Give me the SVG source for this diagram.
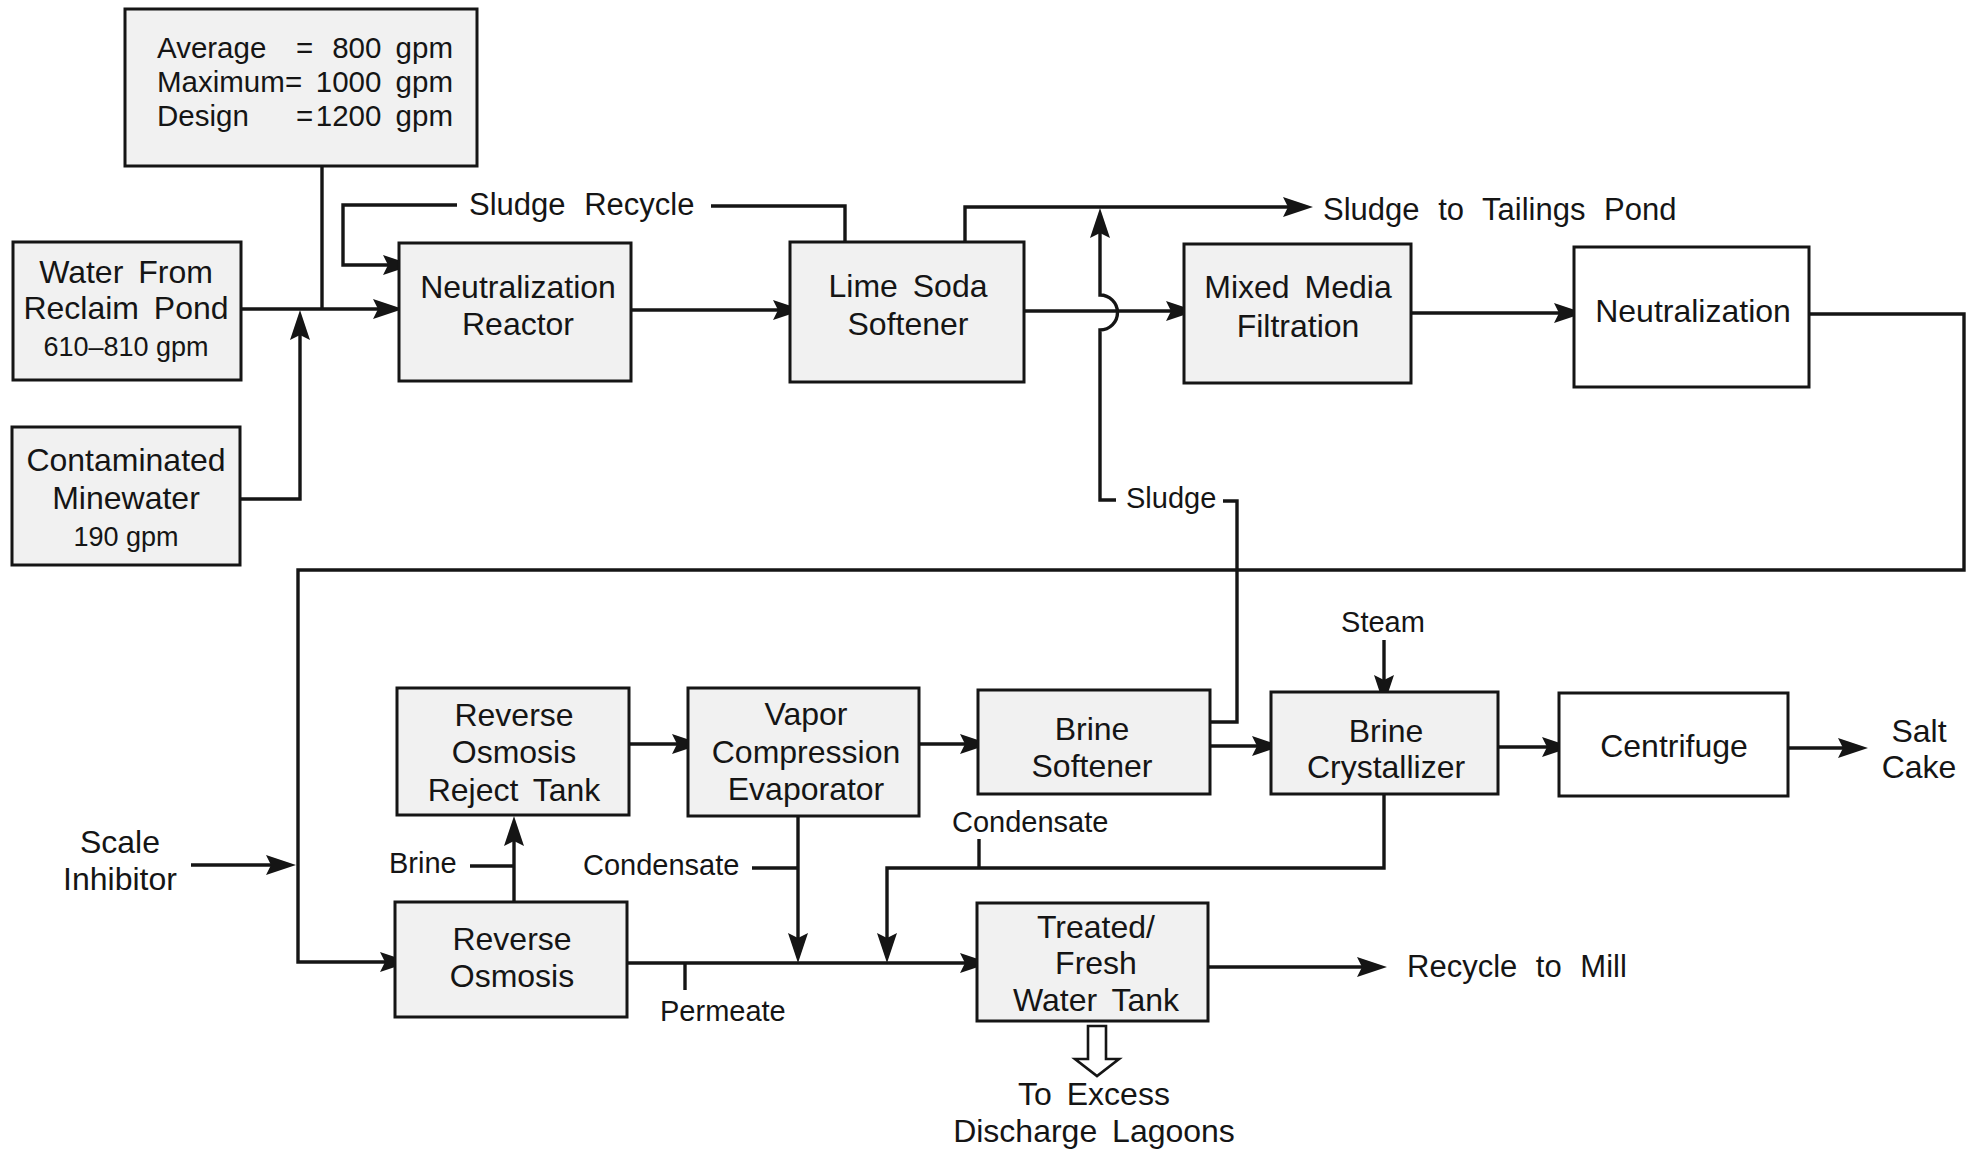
<svg xmlns="http://www.w3.org/2000/svg" width="1967" height="1150" viewBox="0 0 1967 1150">
<style>
text{font-family:"Liberation Sans",Arial,sans-serif;fill:#151515}
.box{fill:#f1f1f1;stroke:#151515;stroke-width:3}
.wbox{fill:#ffffff;stroke:#151515;stroke-width:3}
.ln{fill:none;stroke:#151515;stroke-width:3.4}
.ar{marker-end:url(#ah)}
.t{font-size:32px;text-anchor:middle;word-spacing:6px}
.q{font-size:27px;text-anchor:middle}
.f{font-size:31px;word-spacing:10px}
.s{font-size:29px}
.k{font-size:29.5px}
</style>
<defs>
<marker id="ah" markerUnits="userSpaceOnUse" viewBox="-25 -11 32 22" markerWidth="32" markerHeight="22" refX="0" refY="0" orient="auto">
<path d="M6,0 L-24,-10 L-19,0 L-24,10 Z" fill="#151515"/>
</marker>
</defs>
<rect width="1967" height="1150" fill="#ffffff"/>

<g id="connectors">
<path class="ln ar" d="M241,309 H397"/>
<path class="ln" d="M322,166 V309"/>
<path class="ln ar" d="M240,499 H300 V316"/>
<path class="ln ar" d="M457,205 H343 V265 H407"/>
<path class="ln" d="M711,206 H845 V242"/>
<path class="ln ar" d="M631,310 H797"/>
<path class="ln ar" d="M965,242 V207 H1307"/>
<path class="ln ar" d="M1024,311 H1190"/>
<path class="ln ar" d="M1116,500 H1100 V330 A17.5,17.5 0 0 0 1100,295 V214"/>
<path class="ln" d="M1223,501 H1237 V722 H1210"/>
<path class="ln ar" d="M1411,313 H1578"/>
<path class="ln ar" d="M1809,314 H1964 V570 H298 V962 H404"/>
<path class="ln ar" d="M191,865 H290"/>
<path class="ln ar" d="M514,902 V822"/>
<path class="ln" d="M470,866 H514"/>
<path class="ln ar" d="M629,744 H696"/>
<path class="ln ar" d="M919,744 H984"/>
<path class="ln ar" d="M1210,746 H1276"/>
<path class="ln ar" d="M1384,640 V699"/>
<path class="ln ar" d="M1498,747 H1566"/>
<path class="ln ar" d="M1788,748 H1862"/>
<path class="ln ar" d="M627,963 H984"/>
<path class="ln" d="M685,963 V990"/>
<path class="ln ar" d="M798,817 V957"/>
<path class="ln" d="M752,868 H798"/>
<path class="ln ar" d="M1384,794 V868 H887 V957"/>
<path class="ln" d="M979,839 V868"/>
<path class="ln ar" d="M1208,967 H1381"/>
<polygon points="1088,1026 1106,1026 1106,1059 1119,1059 1097,1076 1075,1059 1088,1059" fill="#ffffff" stroke="#151515" stroke-width="2.6" stroke-linejoin="miter"/>
</g>

<g id="flow-rates">
<rect class="box" x="125" y="9" width="352" height="157"/>
<text class="k" x="157" y="58">Average</text>
<text class="k" x="296" y="58">=</text>
<text class="k" x="453" y="58" text-anchor="end" word-spacing="6">800 gpm</text>
<text class="k" x="157" y="92">Maximum</text>
<text class="k" x="285" y="92">=</text>
<text class="k" x="453" y="92" text-anchor="end" word-spacing="6">1000 gpm</text>
<text class="k" x="157" y="126">Design</text>
<text class="k" x="296" y="126">=</text>
<text class="k" x="453" y="126" text-anchor="end" word-spacing="6">1200 gpm</text>
</g>

<g id="reclaim-pond">
<rect class="box" x="13" y="242" width="228" height="138"/>
<text class="t" x="126" y="283">Water From</text>
<text class="t" x="126" y="319">Reclaim Pond</text>
<text class="q" x="126" y="356">610–810 gpm</text>
</g>

<g id="minewater">
<rect class="box" x="12" y="427" width="228" height="138"/>
<text class="t" x="126" y="471">Contaminated</text>
<text class="t" x="126" y="509">Minewater</text>
<text class="q" x="126" y="546">190 gpm</text>
</g>

<g id="neutralization-reactor">
<rect class="box" x="399" y="243" width="232" height="138"/>
<text class="t" x="518" y="298">Neutralization</text>
<text class="t" x="518" y="335">Reactor</text>
</g>

<g id="lime-soda-softener">
<rect class="box" x="790" y="242" width="234" height="140"/>
<text class="t" x="908" y="297">Lime Soda</text>
<text class="t" x="908" y="335">Softener</text>
</g>

<g id="mixed-media-filtration">
<rect class="box" x="1184" y="244" width="227" height="139"/>
<text class="t" x="1298" y="298">Mixed Media</text>
<text class="t" x="1298" y="337">Filtration</text>
</g>

<g id="neutralization">
<rect class="wbox" x="1574" y="247" width="235" height="140"/>
<text class="t" x="1693" y="322">Neutralization</text>
</g>

<g id="ro-reject-tank">
<rect class="box" x="397" y="688" width="232" height="127"/>
<text class="t" x="514" y="726">Reverse</text>
<text class="t" x="514" y="763">Osmosis</text>
<text class="t" x="514" y="801">Reject Tank</text>
</g>

<g id="vapor-compression-evaporator">
<rect class="box" x="688" y="688" width="231" height="128"/>
<text class="t" x="806" y="725">Vapor</text>
<text class="t" x="806" y="763">Compression</text>
<text class="t" x="806" y="800">Evaporator</text>
</g>

<g id="brine-softener">
<rect class="box" x="978" y="690" width="232" height="104"/>
<text class="t" x="1092" y="740">Brine</text>
<text class="t" x="1092" y="777">Softener</text>
</g>

<g id="brine-crystallizer">
<rect class="box" x="1271" y="692" width="227" height="102"/>
<text class="t" x="1386" y="742">Brine</text>
<text class="t" x="1386" y="778">Crystallizer</text>
</g>

<g id="centrifuge">
<rect class="wbox" x="1559" y="693" width="229" height="103"/>
<text class="t" x="1674" y="757">Centrifuge</text>
</g>

<g id="salt-cake">
<text class="t" x="1919" y="742">Salt</text>
<text class="t" x="1919" y="778">Cake</text>
</g>

<g id="reverse-osmosis">
<rect class="box" x="395" y="902" width="232" height="115"/>
<text class="t" x="512" y="950">Reverse</text>
<text class="t" x="512" y="987">Osmosis</text>
</g>

<g id="treated-fresh-water-tank">
<rect class="box" x="977" y="903" width="231" height="118"/>
<text class="t" x="1096" y="938">Treated/</text>
<text class="t" x="1096" y="974">Fresh</text>
<text class="t" x="1096" y="1011">Water Tank</text>
</g>

<g id="scale-inhibitor">
<text class="t" x="120" y="853">Scale</text>
<text class="t" x="120" y="890">Inhibitor</text>
</g>

<g id="discharge-lagoons">
<text class="t" x="1094" y="1105">To Excess</text>
<text class="t" x="1094" y="1142">Discharge Lagoons</text>
</g>

<g id="labels">
<text class="f" x="469" y="215">Sludge Recycle</text>
<text class="f" x="1323" y="220">Sludge to Tailings Pond</text>
<text class="f" x="1407" y="977">Recycle to Mill</text>
<text class="s" x="1383" y="632" text-anchor="middle">Steam</text>
<text class="s" x="1126" y="508">Sludge</text>
<text class="s" x="389" y="873">Brine</text>
<text class="s" x="583" y="875">Condensate</text>
<text class="s" x="952" y="832">Condensate</text>
<text class="s" x="660" y="1021">Permeate</text>
</g>
</svg>
